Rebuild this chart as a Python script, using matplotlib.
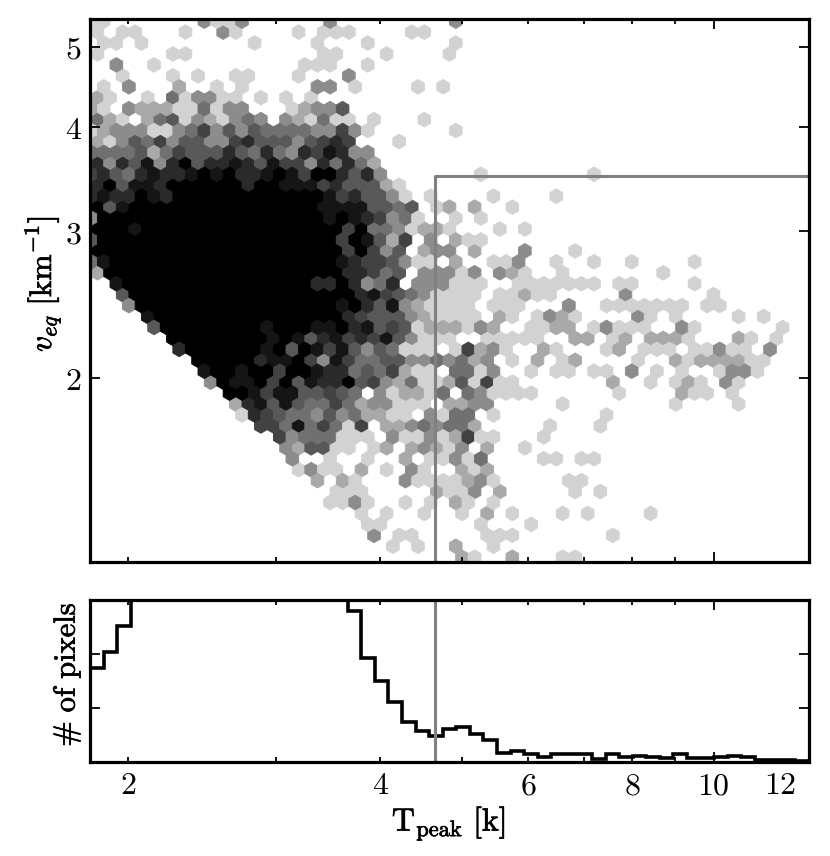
import matplotlib
matplotlib.use("Agg")
import matplotlib.pyplot as plt
import matplotlib.patheffects as pe
import numpy as np
from matplotlib.colors import ListedColormap
from matplotlib.ticker import NullLocator

plt.rcParams["mathtext.fontset"] = "cm"
plt.rcParams["font.family"] = "DejaVu Serif"

# hex cells: row -> {first column: gray levels}
# level 1 is the lightest, 9 is black, '.' is an empty cell
hex_rows = {
    -30: {0: "11", 9: "3113", 19: "3", 29: "3"},
    -29: {1: "1", 3: "11", 8: "1", 11: "31", 17: "1", 19: "111", 26: "11"},
    -28: {1: "11", 4: "1", 13: "1", 18: "1", 22: "1", 29: "1"},
    -27: {1: "1", 7: "11", 19: "11", 24: "1", 29: "1"},
    -26: {2: "3", 5: "1", 17: "111", 22: "1"},
    -25: {3: "1", 7: "1", 9: "1", 12: "11", 17: "1", 21: "3"},
    -24: {1: "1", 3: "3", 7: "2", 10: "1", 12: "1", 18: "33", 21: "1", 26: "1", 28: "1"},
    -23: {0: "121", 5: "1", 7: "413311", 14: "1", 16: "1", 18: "1"},
    -22: {0: "21", 3: "3222114133", 16: "12335"},
    -21: {0: "3421.2451321343.321411", 23: "1", 27: "1"},
    -20: {0: "12333113463535444433631", 29: "1"},
    -19: {0: "2213546355336755535676", 25: "1"},
    -18: {0: "44445246555754743768733"},
    -17: {0: "673758379577875866374742"},
    -16: {0: "675478778989778986997573", 31: "1", 40: "1"},
    -15: {0: "57958879999997998886755521"},
    -14: {0: "7877987" + "9" * 12 + "8675531", 27: "1", 32: "1", 37: "1"},
    -13: {0: "9958" + "9" * 15 + "88885545", 28: "12", 31: "2", 34: "1"},
    -12: {0: "3" + "9" * 18 + "89876341", 29: "1", 31: "1"},
    -11: {0: "7999" + "8" + "9" * 16 + "694431221", 33: "1", 35: "1"},
    -10: {0: "5" + "9" * 19 + "698526.3.211"},
    -9: {0: "9" * 21 + "69635.233.2", 35: "3", 39: "1"},
    -8: {0: "48" + "9" * 18 + "87665311.2", 32: "113", 37: "1", 40: "1", 43: "1", 48: "1"},
    -7: {1: "2" + "9" * 19 + "77645.33313", 33: "321", 38: "1", 46: "1"},
    -6: {2: "8" + "9" * 15 + "7797347.333111", 34: "1111111", 42: "11", 48: "1"},
    -5: {3: "5" + "9" * 18 + "7865431111", 33: "11211", 43: "3", 50: "1"},
    -4: {3: "3" + "9" * 16 + "89758321111", 32: "111", 38: "3", 41: "1111111", 49: "11"},
    -3: {5: "8" + "9" * 15 + "76555321111", 33: "21", 36: "1321", 44: "31", 47: "1", 52: "1", 54: "1"},
    -2: {5: "5" + "9" * 8 + "8999" + "889785651222132", 35: "1122", 40: "13111", 47: "31", 55: "1"},
    -1: {7: "9" * 8 + "898578676853111", 32: "11111", 39: "22", 42: "12", 45: "2221", 52: "21", 55: "1"},
    0: {7: "7" + "9" * 6 + "89598685354111.16231", 36: "21", 41: "12", 44: "111", 48: "11311", 54: "3"},
    1: {9: "9" * 5 + "7889638644553343423", 34: "1", 36: "2", 38: "12", 44: "1", 47: "21", 49: "2222", 53: "11"},
    2: {9: "899899699" + "8774546211.4413", 35: "1", 37: "11", 40: "11", 43: "3", 45: "1", 47: "1", 50: "1331"},
    3: {10: "3988969587795632411251611", 42: "2", 45: "1", 47: "121", 51: "31"},
    4: {11: "99868855654.312214.431111", 42: "1", 47: "211", 51: "1"},
    5: {12: "2785854464233111.2233", 38: "1", 47: "1", 52: "1"},
    6: {12: "17654435342211.3144.1", 41: "1"},
    7: {14: "664846416.22343442", 37: "1", 41: "1"},
    8: {15: "63444111.311312611", 36: "1"},
    9: {16: "325511.12.23213.2", 35: "1"},
    10: {16: "3", 19: "1", 22: "1", 25: "2", 27: "11314", 36: "11", 39: "11"},
    11: {17: "1311", 22: "2", 24: "1", 26: "31", 30: "212"},
    12: {18: "2", 20: "21", 25: "31111231", 38: "11"},
    13: {20: "111", 28: "2113", 33: "2", 39: "1", 41: "1"},
    14: {19: "1131", 25: "1", 27: "1", 29: "21", 32: "1"},
    15: {22: "1", 24: "1", 27: "1", 30: "1", 32: "2", 34: "1", 38: "1", 40: "1", 45: "1"},
    16: {22: "11", 31: "1", 35: "1"},
    17: {23: "3", 25: "11", 32: "111", 42: "1"},
    18: {24: "1", 26: "1", 29: "2", 32: "1"},
    19: {30: "21", 34: "2", 38: "11"},
}
gray_levels = ["#d2d2d2", "#a9a9a9", "#8c8c8c", "#707070", "#585858",
               "#424242", "#2a2a2a", "#151515", "#000000"]

# pixel counts per log bin, the bins 3-18 run off the top of the panel
pixel_counts = [175, 204, 252, 340, 420, 480, 520, 560, 590, 600, 610, 600,
                590, 570, 540, 500, 460, 410, 350, 280, 192, 150, 112, 75,
                58, 49, 62, 65, 52, 40, 17, 21, 14, 9, 15, 15, 14, 6, 14, 10,
                12, 10, 8, 15, 7, 7, 9, 11, 9, 4, 4, 3, 2]

x_major = [10]
x_major_labels = ["10"]
x_minor = [2, 3, 4, 5, 6, 7, 8, 9, 12]
x_minor_labels = ["2", "", "4", "", "6", "", "8", "", "12"]
y_ticks = [2, 3, 4, 5]
count_ticks = [100, 200]
t_cut = 4.65
v_cut = 3.5

x_lim = (1.8, 13.0)
y_lim = (1.2, 5.4)

# hex lattice, exponents of ten
hex_x0 = 0.24918
hex_dx = 0.015013
hex_y0 = 0.08495
hex_dy = 0.02632
grid = (58, 25)

heavy = [pe.withStroke(linewidth=0.5, foreground="black")]


def hex_cells():
    xs, ys, levels = [], [], []
    for row, segments in hex_rows.items():
        shift = 0.5 if row % 2 == 0 else 0.0
        for start, codes in segments.items():
            for n, code in enumerate(codes):
                if code == ".":
                    continue
                xs.append(10 ** (hex_x0 + (start + n + shift) * hex_dx))
                ys.append(10 ** (hex_y0 + (19 - row) / 2 * hex_dy))
                levels.append(int(code))
    return np.array(xs), np.array(ys), np.array(levels)


def math_labels(labels):
    return [r"$\mathrm{%s}$" % t if t else "" for t in labels]


def style_axis(ax):
    ax.set_xscale("log")
    ax.set_xlim(x_lim)
    ax.yaxis.set_minor_locator(NullLocator())
    ax.set_xticks(x_major)
    ax.set_xticks(x_minor, minor=True)
    ax.tick_params(which="major", direction="in", top=True, right=True,
                   length=7.5, width=1.3, labelsize=23, pad=6)
    ax.tick_params(which="minor", direction="in", top=True, right=True,
                   length=3.7, width=1.3, labelsize=23, pad=6)
    # the label 12 has no tick mark
    last = ax.xaxis.get_minor_ticks()[-1]
    last.tick1line.set_visible(False)
    last.tick2line.set_visible(False)
    for spine in ax.spines.values():
        spine.set_linewidth(2.3)


def plot_hexes(ax):
    xs, ys, levels = hex_cells()
    ax.hexbin(xs, ys, C=levels, reduce_C_function=np.max, gridsize=grid,
              xscale="log", yscale="log",
              extent=(hex_x0, hex_x0 + grid[0] * hex_dx,
                      hex_y0, hex_y0 + grid[1] * hex_dy),
              cmap=ListedColormap(gray_levels), vmin=0.5, vmax=9.5,
              linewidths=0.7)
    ax.plot([t_cut, t_cut, x_lim[1]], [y_lim[0], v_cut, v_cut], color="gray", lw=2.2)
    style_axis(ax)
    ax.set_yscale("log")
    ax.set_ylim(y_lim)
    ax.yaxis.set_minor_locator(NullLocator())
    ax.set_yticks(y_ticks)
    ax.set_yticklabels(math_labels(y_ticks))
    ax.set_xticklabels([])
    ax.set_xticklabels([], minor=True)
    ax.set_ylabel(r"$v_{eq}\ \mathrm{[km^{-1}]}$", fontsize=22.5, path_effects=heavy)
    ax.yaxis.set_label_coords(-0.038, 0.512)


def plot_counts(ax):
    edges = 10 ** np.linspace(np.log10(x_lim[0]), np.log10(x_lim[1]),
                              len(pixel_counts) + 1)
    ax.stairs(pixel_counts, edges, color="black", lw=2.6, baseline=None)
    ax.axvline(t_cut, color="gray", lw=2.2)
    style_axis(ax)
    ax.set_ylim(0, 300)
    ax.set_yticks(count_ticks)
    ax.set_yticklabels([])
    ax.set_xticklabels(math_labels(x_major_labels))
    ax.set_xticklabels(math_labels(x_minor_labels), minor=True)
    ax.set_xlabel(r"$\mathrm{T_{peak}\ [k]}$", fontsize=23, path_effects=heavy)
    ax.xaxis.set_label_coords(0.499, -0.27)
    ax.set_ylabel(r"$\mathrm{\#\ of\ pixels}$", fontsize=22, path_effects=heavy)
    ax.yaxis.set_label_coords(-0.010, 0.54)


def main():
    fig = plt.figure(figsize=(8.30, 8.56), dpi=100)
    top = fig.add_axes([90 / 830, 294 / 856, 719 / 830, 543 / 856])
    bottom = fig.add_axes([90 / 830, 94 / 856, 719 / 830, 162 / 856])
    plot_hexes(top)
    plot_counts(bottom)
    fig.savefig("out.png", dpi=100)


if __name__ == "__main__":
    main()
